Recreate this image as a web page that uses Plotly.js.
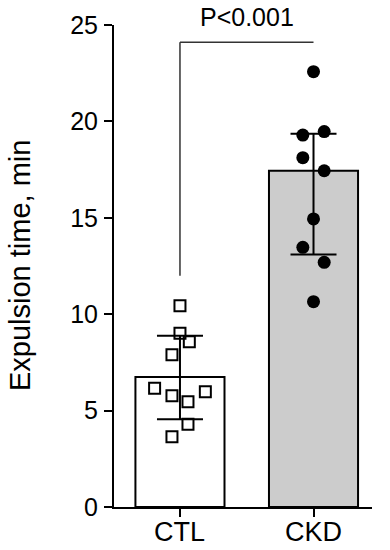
<!DOCTYPE html>
<html>
<head>
<meta charset="utf-8">
<script src="https://cdn.plot.ly/plotly-3.0.1.min.js"></script>
<style>
  body { margin: 0; background: #fff; }
  #plot { width: 390px; height: 550px; }
</style>
</head>
<body>
<div id="plot"></div>
<script>
// group labels and summary values (mean, +/- error)
const groups = ['CTL', 'CKD'];
const means = [6.74, 17.44];
const errUp = [2.14, 1.92];
const errDown = [2.19, 4.35];

// individual animals
const ctlValues = [10.44, 9.01, 8.57, 7.90, 6.16, 5.77, 5.98, 5.46, 4.29, 3.65];
const ctlJitter = [0, 0, 0.07, -0.06, -0.19, -0.06, 0.19, 0.06, 0.06, -0.06];
const ckdValues = [22.58, 19.29, 19.47, 18.12, 17.44, 14.94, 13.47, 12.69, 10.65];
const ckdJitter = [0, -0.08, 0.08, -0.08, 0.08, 0, -0.08, 0.08, 0];

const yTicks = [0, 5, 10, 15, 20, 25];
const pText = 'P<0.001';

const FONT = 'Liberation Sans, Arial, sans-serif';

// 1. Bars with SD error bars
let traceBars = {
    type: 'bar',
    x: [0, 1],
    y: means,
    width: 0.667,
    marker: { color: ['#ffffff', '#cccccc'], line: { color: '#000', width: 2 } },
    error_y: { type: 'data', symmetric: false, array: errUp, arrayminus: errDown,
               color: '#000', thickness: 2, width: 23 },
    hoverinfo: 'skip'
};

// 2. Points (open squares for CTL, filled circles for CKD)
let traceCtl = {
    type: 'scatter', mode: 'markers',
    x: ctlJitter.map(j => 0 + j),
    y: ctlValues,
    marker: { symbol: 'square-open', size: 11, color: '#000', line: { width: 2, color: '#000' } },
    cliponaxis: false
};
let traceCkd = {
    type: 'scatter', mode: 'markers',
    x: ckdJitter.map(j => 1 + j),
    y: ckdValues,
    marker: { symbol: 'circle', size: 13, color: '#000' },
    cliponaxis: false
};

// group labels drawn as annotations so they can sit closer to the axis
let groupLabels = groups.map((g, i) => ({
    text: g, xref: 'x', yref: 'paper', x: i, y: -0.052, yanchor: 'middle',
    showarrow: false, font: { size: 27, family: FONT, color: '#000' }
}));

let layout = {
    width: 390, height: 550,
    margin: { l: 114, r: 18, t: 25, b: 43 },
    paper_bgcolor: '#fff', plot_bgcolor: '#fff',
    showlegend: false,
    font: { family: FONT, color: '#000' },
    xaxis: {
        range: [-0.494, 1.438],
        tickvals: [0, 1], showticklabels: false,
        ticks: 'outside', ticklen: 8, tickwidth: 2, tickcolor: '#000',
        showline: true, linewidth: 2, linecolor: '#000',
        showgrid: false, zeroline: false
    },
    yaxis: {
        range: [0, 25],
        tickvals: yTicks,
        ticks: 'outside', ticklen: 8, tickwidth: 2, tickcolor: '#000',
        ticklabelstandoff: 1,
        showline: true, linewidth: 2, linecolor: '#000',
        showgrid: false, zeroline: false,
        tickfont: { size: 25, family: FONT, color: '#000' }
    },
    shapes: [
        // significance bracket
        { type: 'line', xref: 'x', yref: 'y', x0: 0, x1: 0, y0: 12.0, y1: 24.1,
          line: { color: '#333', width: 1.5 } },
        { type: 'line', xref: 'x', yref: 'y', x0: 0, x1: 1, y0: 24.1, y1: 24.1,
          line: { color: '#333', width: 1.5 } }
    ],
    annotations: groupLabels.concat([
        { text: pText, xref: 'x', yref: 'paper', x: 0.5, y: 1.0166, yanchor: 'middle',
          showarrow: false, font: { size: 25, family: FONT, color: '#000' } },
        { text: 'Expulsion time, min', xref: 'paper', yref: 'paper', x: 0, y: 0.5,
          xshift: -94, xanchor: 'center', yanchor: 'middle', textangle: -90,
          showarrow: false, font: { size: 29, family: FONT, color: '#000' } }
    ])
};

Plotly.newPlot('plot', [traceBars, traceCtl, traceCkd], layout, { displayModeBar: false, staticPlot: true });
</script>
</body>
</html>
